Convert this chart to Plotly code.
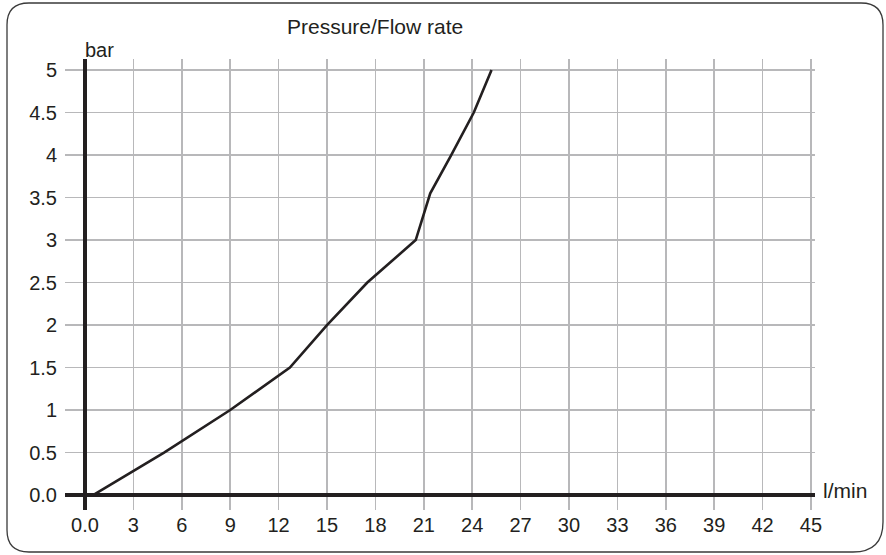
import plotly.graph_objects as go

# Data
flow = [0.5, 4.9, 9.0, 12.7, 15.0, 17.5, 20.5, 21.4, 22.7, 24.1, 25.2]
pressure = [0.0, 0.5, 1.0, 1.5, 2.0, 2.5, 3.0, 3.55, 4.0, 4.5, 5.0]

x_ticks = list(range(0, 46, 3))
x_labels = ["0.0"] + [str(v) for v in x_ticks[1:]]
y_ticks = [0, 0.5, 1, 1.5, 2, 2.5, 3, 3.5, 4, 4.5, 5]
y_labels = ["0.0", "0.5", "1", "1.5", "2", "2.5", "3", "3.5", "4", "4.5", "5"]

W, H = 886, 555
# plot area in page pixels: left 65, right 815, top 59, bottom 510
L, T = 65, 59
R = W - 815
B = H - 510
pw, ph = W - L - R, H - T - B

def px(x):
    return (x - L) / pw

def py(y):
    return (H - B - y) / ph

font = "Liberation Sans, Arial, Helvetica, sans-serif"
txt = "#231f20"

fig = go.Figure()
fig.add_trace(go.Scatter(x=flow, y=pressure, mode="lines",
                         line=dict(color="#231f20", width=2.6),
                         hoverinfo="skip", showlegend=False))

axis_common = dict(showgrid=True, gridcolor="#b8b8ba", gridwidth=1.6,
                   zeroline=True, zerolinecolor="#231f20", zerolinewidth=3.2,
                   showline=False, ticks="", fixedrange=True,
                   tickfont=dict(family=font, size=20, color=txt))

fig.update_layout(
    width=W, height=H,
    margin=dict(l=L, r=R, t=T, b=B),
    paper_bgcolor="white", plot_bgcolor="white",
    xaxis=dict(range=[-1.24, 45.25], tickvals=x_ticks, ticktext=x_labels,
               ticklabelstandoff=1, **axis_common),
    yaxis=dict(range=[-0.176, 5.13], tickvals=y_ticks, ticktext=y_labels,
               ticklabelstandoff=7, **axis_common),
    showlegend=False,
)

# Rounded outer border (bottom-right corner slightly larger, as in reference)
x0, x1 = px(7), px(883)
y0, y1 = py(552), py(3)
rx, ry = 22 / pw, 22 / ph
rx2, ry2 = 30 / pw, 30 / ph
path = (f"M {x0+rx},{y1} L {x1-rx},{y1} Q {x1},{y1} {x1},{y1-ry} "
        f"L {x1},{y0+ry2} Q {x1},{y0} {x1-rx2},{y0} "
        f"L {x0+rx},{y0} Q {x0},{y0} {x0},{y0+ry} "
        f"L {x0},{y1-ry} Q {x0},{y1} {x0+rx},{y1} Z")
fig.add_shape(type="path", path=path, xref="paper", yref="paper",
              line=dict(color="#3a3a3a", width=1.3), layer="below")

fig.add_annotation(text="Pressure/Flow rate", xref="paper", yref="paper",
                   x=px(375), y=py(27), xanchor="center", yanchor="middle",
                   showarrow=False, font=dict(family=font, size=21, color=txt))
fig.add_annotation(text="bar", xref="paper", yref="paper",
                   x=px(83), y=py(50), xanchor="left", yanchor="middle",
                   showarrow=False, font=dict(family=font, size=20, color=txt))
fig.add_annotation(text="l/min", xref="paper", yref="paper",
                   x=px(821), y=py(490), xanchor="left", yanchor="middle",
                   showarrow=False, font=dict(family=font, size=21, color=txt))

fig.write_html("out.html",
               config={"displayModeBar": False, "staticPlot": True},
               post_script="document.body.style.margin='0';"
                           "document.body.style.overflow='hidden';")
